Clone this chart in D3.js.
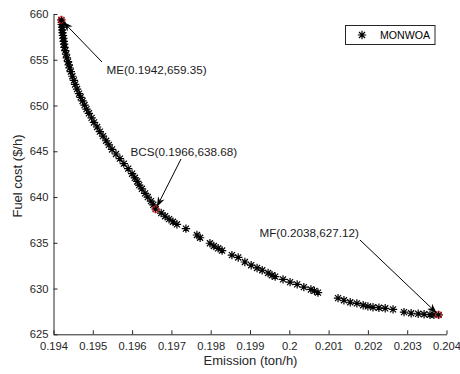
<!DOCTYPE html>
<html>
<head>
<meta charset="utf-8">
<script src="https://cdn.jsdelivr.net/npm/d3@7"></script>
<style>
  body { margin: 0; background: #fff; }
  text { font-family: "Liberation Sans", Arial, sans-serif; }
</style>
</head>
<body>
<svg id="chart" width="460" height="374"></svg>
<script>
// Pareto front (emission ton/h, fuel cost $/h)
const emission = [
  0.19420, 0.19421, 0.19421, 0.19422, 0.19422, 0.19423, 0.19424, 0.19425, 0.19426, 0.19427,
  0.19428, 0.19430, 0.19432, 0.19434, 0.19437, 0.19439, 0.19441, 0.19444, 0.19448, 0.19452,
  0.19455, 0.19460, 0.19465, 0.19469, 0.19474, 0.19479, 0.19484, 0.19490, 0.19497, 0.19503,
  0.19511, 0.19518, 0.19526, 0.19534, 0.19541, 0.19549, 0.19559, 0.19569, 0.19579, 0.19590,
  0.19600, 0.19607, 0.19613, 0.19618, 0.19625, 0.19633, 0.19640, 0.19648, 0.19654, 0.19660,
  0.19674, 0.19684, 0.19694, 0.19704, 0.19714, 0.19737, 0.19765, 0.19773, 0.19798, 0.19808,
  0.19819, 0.19829, 0.19854, 0.19870, 0.19887, 0.19903, 0.19918, 0.19931, 0.19946, 0.19956,
  0.19964, 0.19984, 0.20002, 0.20020, 0.20037, 0.20055, 0.20064, 0.20073, 0.20124, 0.20139,
  0.20155, 0.20172, 0.20188, 0.20200, 0.20213, 0.20228, 0.20244, 0.20264, 0.20292, 0.20310,
  0.20328, 0.20343, 0.20358, 0.20368, 0.20380
];
const fuelCost = [
  659.35, 659.10, 658.85, 658.55, 658.25, 657.95, 657.65, 657.35, 657.00, 656.70,
  656.35, 656.00, 655.60, 655.20, 654.80, 654.45, 654.10, 653.70, 653.20, 652.75,
  652.30, 651.80, 651.30, 650.90, 650.50, 650.05, 649.60, 649.15, 648.65, 648.15,
  647.65, 647.15, 646.65, 646.15, 645.70, 645.20, 644.70, 644.20, 643.65, 643.10,
  642.55, 642.10, 641.70, 641.30, 640.90, 640.40, 640.00, 639.55, 639.15, 638.68,
  638.25, 637.90, 637.58, 637.30, 637.02, 636.55, 635.85, 635.55, 634.95, 634.65,
  634.40, 634.15, 633.65, 633.40, 632.90, 632.55, 632.25, 632.00, 631.70, 631.45,
  631.30, 631.00, 630.70, 630.45, 630.15, 629.90, 629.75, 629.55, 628.95, 628.72,
  628.50, 628.38, 628.18, 628.05, 627.95, 627.90, 627.84, 627.72, 627.42, 627.30,
  627.24, 627.19, 627.14, 627.13, 627.12
];

const xTicks = [0.194, 0.195, 0.196, 0.197, 0.198, 0.199, 0.2, 0.201, 0.202, 0.203, 0.204];
const yTicks = [625, 630, 635, 640, 645, 650, 655, 660];

// highlighted solutions: name, emission, cost
const markedNames = ['ME', 'BCS', 'MF'];
const markedEmission = [0.1942, 0.1966, 0.2038];
const markedCost = [659.35, 638.68, 627.12];

const svg = d3.select('#chart');
const axisColor = '#262626';

const x = d3.scaleLinear().domain([0.194, 0.204]).range([53.5, 446.5]);
const y = d3.scaleLinear().domain([625, 660]).range([334.3, 14]);

// axes (ticks point inward like MATLAB)
const xAxis = svg.append('g')
  .attr('transform', 'translate(0,334.3)')
  .call(d3.axisBottom(x).tickValues(xTicks).tickFormat(d => String(+d.toFixed(3)))
    .tickSizeInner(-4).tickSizeOuter(0).tickPadding(8));
const yAxis = svg.append('g')
  .attr('transform', 'translate(53.5,0)')
  .call(d3.axisLeft(y).tickValues(yTicks).tickFormat(d3.format('d'))
    .tickSizeInner(-4).tickSizeOuter(0).tickPadding(5));

[xAxis, yAxis].forEach(g => {
  g.select('.domain').attr('stroke', axisColor);
  g.selectAll('.tick line').attr('stroke', axisColor);
  g.selectAll('.tick text').attr('fill', axisColor).style('font-size', '11.2px');
});

svg.append('text')
  .attr('x', 250.5).attr('y', 365)
  .attr('text-anchor', 'middle')
  .attr('fill', axisColor)
  .style('font-size', '13px')
  .text('Emission (ton/h)');

svg.append('text')
  .attr('transform', 'translate(22,176) rotate(-90)')
  .attr('text-anchor', 'middle')
  .attr('fill', axisColor)
  .style('font-size', '13px')
  .text('Fuel cost ($/h)');

// asterisk marker path
const star = r => {
  const d = r * 0.72;
  return `M${-r},0L${r},0M0,${-r}L0,${r}M${-d},${-d}L${d},${d}M${-d},${d}L${d},${-d}`;
};

const points = emission.map((e, i) => ({ e, f: fuelCost[i] }));

svg.append('g')
  .selectAll('path')
  .data(points)
  .enter()
  .append('path')
  .attr('transform', d => `translate(${x(d.e)},${y(d.f)})`)
  .attr('d', star(4.2))
  .attr('fill', 'none')
  .attr('stroke', '#000')
  .attr('stroke-width', 1.2);

// red circles on the three picked solutions
svg.append('g')
  .selectAll('circle')
  .data(markedEmission)
  .enter()
  .append('circle')
  .attr('cx', d => x(d))
  .attr('cy', (d, i) => y(markedCost[i]))
  .attr('r', 3.3)
  .attr('fill', 'none')
  .attr('stroke', '#e8141c')
  .attr('stroke-width', 1);

// annotations: text position and arrow tail are layout only
const labelPos = [[106.5, 73.5], [130.5, 156], [259.5, 237]];
const arrowTail = [[102, 62], [181, 159], [360, 240]];

const arrowHead = (tx, ty, sx, sy) => {
  const ang = Math.atan2(ty - sy, tx - sx);
  const len = 10, half = 3.6, notch = 7;
  const c = Math.cos(ang), s = Math.sin(ang);
  const pt = (a, b) => [tx - a * c + b * s, ty - a * s - b * c];
  const p = [pt(0, 0), pt(len, half), pt(notch, 0), pt(len, -half)];
  return 'M' + p.map(q => q.join(',')).join('L') + 'Z';
};

markedNames.forEach((name, i) => {
  const px = x(markedEmission[i]), py = y(markedCost[i]);
  const [sx, sy] = arrowTail[i];
  const dist = Math.hypot(px - sx, py - sy);
  const tx = px + (sx - px) / dist * 2.5, ty = py + (sy - py) / dist * 2.5;

  svg.append('line')
    .attr('x1', sx).attr('y1', sy).attr('x2', tx).attr('y2', ty)
    .attr('stroke', '#000').attr('stroke-width', 1);
  svg.append('path')
    .attr('d', arrowHead(tx, ty, sx, sy))
    .attr('fill', '#000');

  svg.append('text')
    .attr('x', labelPos[i][0]).attr('y', labelPos[i][1])
    .attr('fill', '#1a1a1a')
    .style('font-size', '11.7px')
    .text(`${name}(${markedEmission[i]},${markedCost[i]})`);
});

// legend
const legend = svg.append('g');
legend.append('rect')
  .attr('x', 345.5).attr('y', 25.5).attr('width', 89.5).attr('height', 19)
  .attr('fill', '#fff').attr('stroke', axisColor).attr('stroke-width', 1);
legend.append('path')
  .attr('transform', 'translate(362,35)')
  .attr('d', star(4.2))
  .attr('fill', 'none').attr('stroke', '#000').attr('stroke-width', 1.2);
legend.append('text')
  .attr('x', 380).attr('y', 39)
  .attr('fill', '#000')
  .style('font-size', '10.6px')
  .text('MONWOA');
</script>
</body>
</html>
